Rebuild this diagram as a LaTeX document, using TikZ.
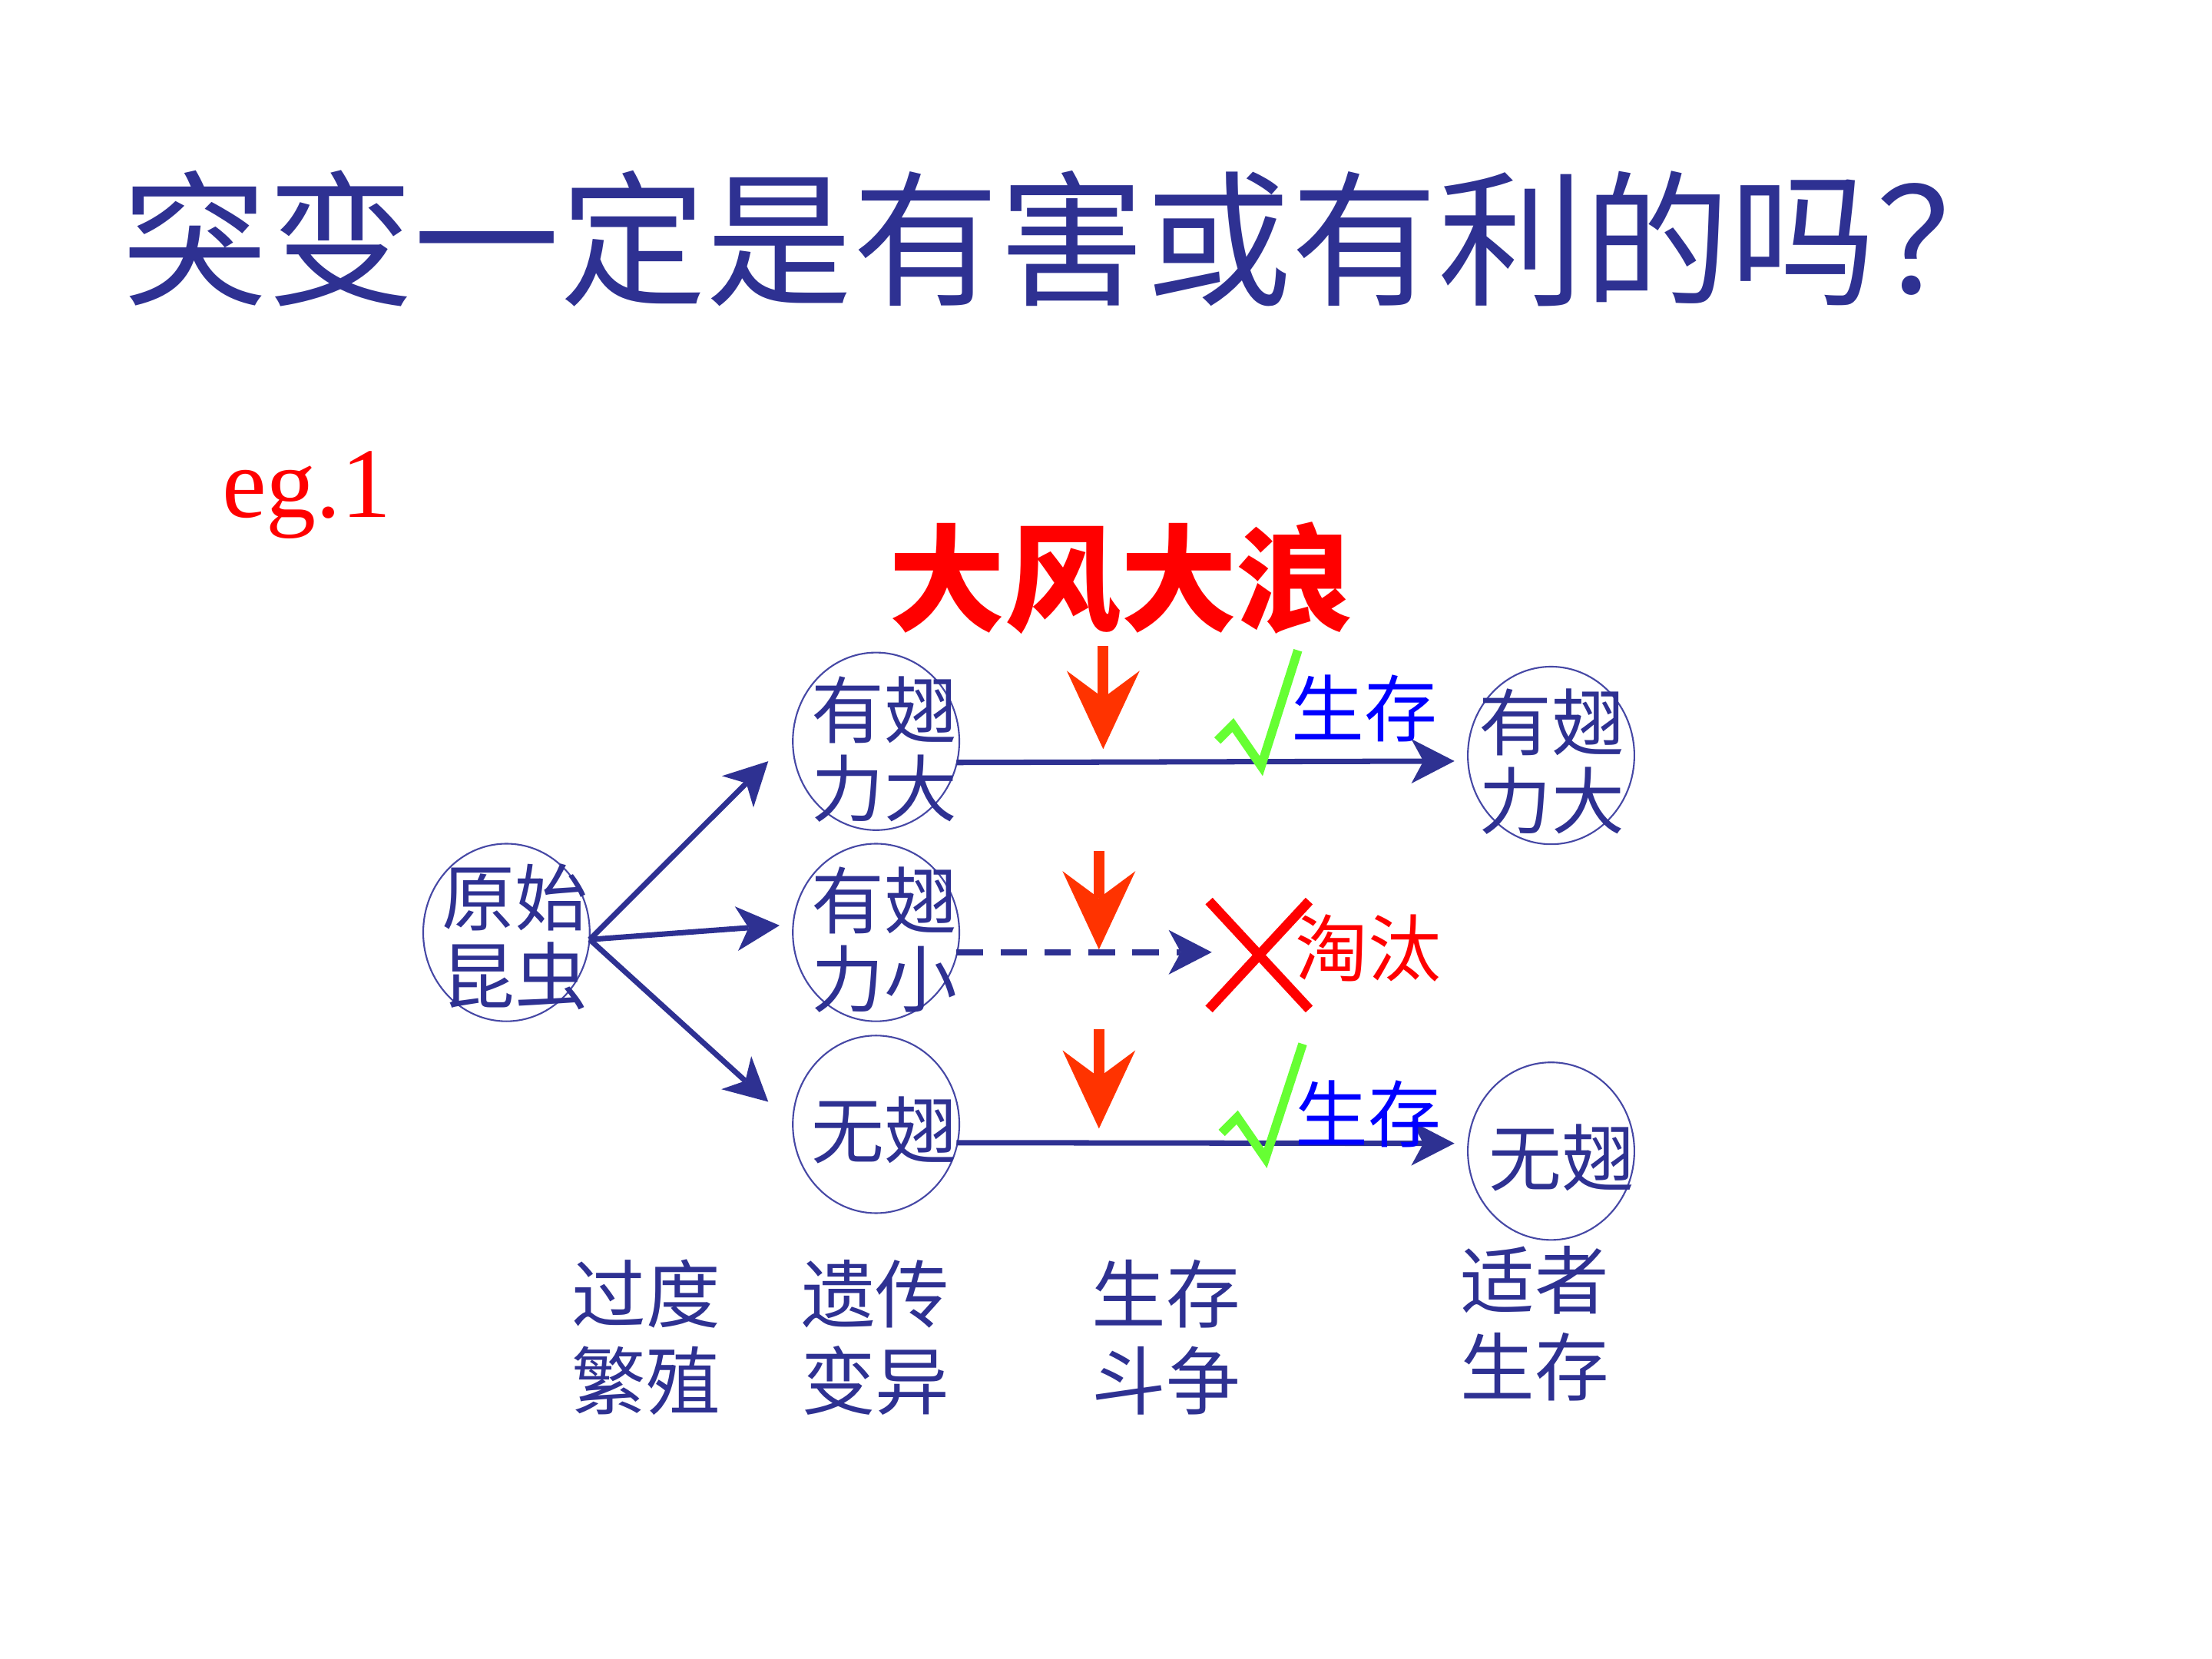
\documentclass[tikz,border=0pt]{standalone}
\usepackage{fontspec}
\newfontfamily\cjk{Noto Sans CJK SC}
\newfontfamily\enserif{Liberation Serif}
\usetikzlibrary{arrows.meta,shapes.geometric,calc}
\definecolor{navy}{RGB}{46,49,146}
\definecolor{ellcol}{RGB}{70,72,165}
\definecolor{windred}{RGB}{255,51,0}
\definecolor{checkgreen}{RGB}{102,255,51}
\definecolor{pure red}{RGB}{255,0,0}
\definecolor{pure blue}{RGB}{0,0,255}
\begin{document}
\begin{tikzpicture}[x=0.018367cm,y=-0.018367cm,
  ell/.style={ellipse, draw=ellcol, line width=0.6pt, minimum width=61.7pt, minimum height=65.8pt, inner sep=0pt, outer sep=0pt},
  lbl/.style={font=\cjk\fontsize{27}{29}\selectfont, text=navy, align=center, inner sep=0pt},
  bottomlbl/.style={font=\cjk\fontsize{27.5}{32.2}\selectfont, text=navy, align=center, inner sep=0pt},
  navyarrow/.style={draw=navy, line width=2pt, -{Stealth[length=16pt,width=16.5pt,inset=4.5pt,line width=0pt]}},
  windarrow/.style={draw=windred, line width=4pt, -{Stealth[length=29pt,width=27pt,inset=10pt,line width=0pt]}},
  greencheck/.style={draw=checkgreen, line width=3.3pt, line join=miter},
  redcross/.style={draw=pure red, line width=3.6pt}]
\useasboundingbox (0,0) rectangle (1568,1176);
\fill[white] (0,0) rectangle (1568,1176);

% title
\node[inner sep=0pt, text=navy, font=\cjk\fontsize{54.2}{60}\selectfont] (title) at (760,169) {突变一定是有害或有利的吗？};
% eg.1
\node[inner sep=0pt, anchor=base west, text=pure red, font=\enserif\fontsize{37}{40}\selectfont] (eg) at (157,366.6) {eg.1};
% wind label
\node[inner sep=0pt, text=pure red, font=\cjk\bfseries\fontsize{43}{48}\selectfont] (wind) at (794.7,409.7) {大风大浪};

% ellipses
\node[ell] (e1) at (359,661) {};
\node[ell] (e2) at (621,525.5) {};
\node[ell] (e3) at (621,661) {};
\node[ell] (e4) at (621,797) {};
\node[ell] (e5) at (1099.5,535.5) {};
\node[ell] (e6) at (1099.5,816) {};

% ellipse texts
\node[lbl] (t1) at (365,664) {原始\\昆虫};
\node[lbl] (t2) at (627,531) {有翅\\力大};
\node[lbl] (t3) at (627,666) {有翅\\力小};
\node[lbl] (t4) at (627,801) {无翅};
\node[lbl] (t5) at (1100,540) {有翅\\力大};
\node[lbl] (t6) at (1107,820.7) {无翅};

% connectors from the original insect
\coordinate (s1) at ($(e1.east)+(0,5)$);
\draw[navyarrow] (s1) -- ($(e2.west)+(-17.4,14.1)$);
\draw[navyarrow] (s1) -- ($(e3.west)+(-9.4,-5)$);
\draw[navyarrow] (s1) -- ($(e4.west)+(-17.4,-16)$);

% horizontal connectors
\coordinate (xt) at (859,675);
\draw[navyarrow] ($(e2.east)+(-2,15)$) -- ($(e5.west)+(-9.5,4)$);
\draw[navyarrow, dash pattern=on 9.8pt off 6.5pt, line width=2.4pt] ($(e3.east)+(-2,14)$) -- (xt);
\draw[navyarrow] ($(e4.east)+(-2,13)$) -- ($(e6.west)+(-9.5,-5.5)$);

% wind arrows
\draw[windarrow] (782,458) -- (782,531);
\draw[windarrow] (779,603) -- (779,673);
\draw[windarrow] (779,729.6) -- (779,800);

% checks
\draw[greencheck] (863,525) -- (874,514) -- (894,543) -- (920,461);
\draw[greencheck] (866,803) -- (877,792) -- (897,821) -- (923.4,740);

% cross
\draw[redcross] (857,638.7) -- (928,715.3);
\draw[redcross] (928,638.7) -- (857,715.3);

% side labels
\node[lbl, text=pure blue] (sv1) at (967,502) {生存};
\node[lbl, text=pure red] (tt) at (970,672) {淘汰};
\node[lbl, text=pure blue] (sv2) at (970,789.5) {生存};

% bottom labels
\node[bottomlbl] (b1) at (458,948) {过度\\繁殖};
\node[bottomlbl] (b2) at (620.5,948) {遗传\\变异};
\node[bottomlbl] (b3) at (826.5,948) {生存\\斗争};
\node[bottomlbl] (b4) at (1088,938) {适者\\生存};
\end{tikzpicture}
\end{document}
